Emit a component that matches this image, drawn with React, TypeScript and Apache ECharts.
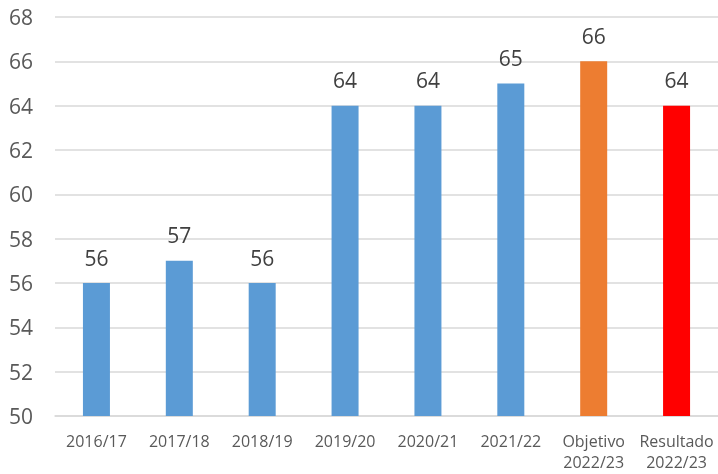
import React, { useEffect, useRef } from "react";
import * as echarts from "echarts";

const categories = ["2016/17", "2017/18", "2018/19", "2019/20", "2020/21", "2021/22", "Objetivo\n2022/23", "Resultado\n2022/23"];
const values = [56, 57, 56, 64, 64, 65, 66, 64];
const barColors = ["#5B9BD5", "#5B9BD5", "#5B9BD5", "#5B9BD5", "#5B9BD5", "#5B9BD5", "#ED7D31", "#FF0000"];

export default function App() {
  const ref = useRef<HTMLDivElement>(null);
  useEffect(() => {
    document.body.style.margin = "0";
    const chart = echarts.init(ref.current!, null, { renderer: "svg" });
    chart.setOption({
      animation: false,
      grid: { left: 55, top: 17, width: 664, bottom: 58, containLabel: false },
      xAxis: {
        type: "category",
        data: categories,
        axisLine: { lineStyle: { color: "#d9d9d9", width: 1.5 } },
        axisTick: { show: false },
        axisLabel: {
          color: "#595959",
          fontFamily: "Open Sans",
          fontSize: 16,
          lineHeight: 21,
          margin: 14,
          interval: 0,
        },
      },
      yAxis: {
        type: "value",
        min: 50,
        max: 68,
        interval: 2,
        axisLine: { show: false },
        axisTick: { show: false },
        splitLine: { lineStyle: { color: "#d9d9d9", width: 1.5 } },
        axisLabel: {
          color: "#595959",
          fontFamily: "Open Sans",
          fontSize: 21,
          margin: 22,
        },
      },
      series: [
        {
          type: "bar",
          barWidth: 27,
          data: values.map((v, i) => ({ value: v, itemStyle: { color: barColors[i] } })),
          label: {
            show: true,
            position: "top",
            distance: 15,
            color: "#404040",
            fontFamily: "Open Sans",
            fontSize: 21,
          },
        },
      ],
    });
    return () => chart.dispose();
  }, []);
  return <div ref={ref} style={{ position: "fixed", left: 0, top: 0, width: 718, height: 474 }} />;
}
